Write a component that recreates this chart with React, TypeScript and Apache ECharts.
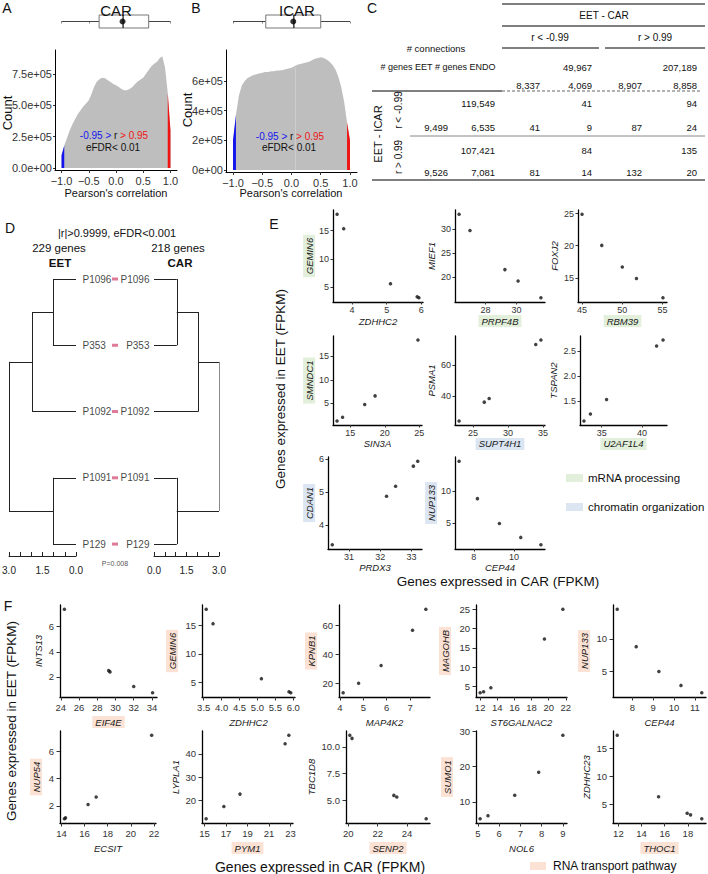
import React, { useEffect, useRef } from "react";
import * as echarts from "echarts";

const FONT = "'Liberation Sans', Arial, Helvetica, sans-serif";
const BLUE = "#1414ee";
const RED = "#ee1414";
const GREEN_HL = "#e2efda";
const BLUE_HL = "#dce6f2";
const PEACH_HL = "#fbe2d5";

// ---------------- A / B : distributions of Pearson's correlation ----------------
const corrBins = [-1.0, -0.95, -0.9, -0.85, -0.8, -0.75, -0.7, -0.65, -0.6, -0.55, -0.5, -0.45, -0.4, -0.35, -0.3, -0.25, -0.2, -0.15, -0.1, -0.05, 0.0, 0.05, 0.1, 0.15, 0.2, 0.25, 0.3, 0.35, 0.4, 0.45, 0.5, 0.55, 0.6, 0.65, 0.7, 0.75, 0.8, 0.85, 0.9, 0.95, 1.0];
const carCounts = [100000, 180000, 240000, 300000, 350000, 390000, 430000, 460000, 490000, 515000, 540000, 590000, 650000, 690000, 710000, 720000, 715000, 700000, 685000, 670000, 660000, 645000, 630000, 620000, 620000, 630000, 645000, 670000, 690000, 705000, 720000, 750000, 780000, 810000, 830000, 845000, 875000, 890000, 800000, 600000, 300000];
const icarCounts = [200000, 370000, 500000, 570000, 600000, 620000, 630000, 640000, 645000, 650000, 655000, 660000, 660000, 665000, 665000, 670000, 670000, 675000, 680000, 685000, 690000, 700000, 710000, 715000, 720000, 725000, 730000, 740000, 750000, 755000, 760000, 755000, 745000, 730000, 710000, 680000, 630000, 560000, 460000, 320000, 200000];
const corrTicks = [-1, -0.5, 0, 0.5, 1];
const carYTicks = [0, 250000, 500000, 750000];
const carYLabels = ["0.0e+00", "2.5e+05", "5.0e+05", "7.5e+05"];
const icarYTicks = [0, 200000, 400000, 600000];
const icarYLabels = ["0e+00", "2e+05", "4e+05", "6e+05"];
const carBoxStats = [-1.0, -0.31, 0.13, 0.6, 1.0];
const carMean = 0.12;
const icarBoxStats = [-1.0, -0.44, 0.04, 0.5, 1.0];
const icarMean = 0.03;
const icarMeanLine = 0.07;

// ---------------- C : table ----------------
const carSignHeaders = ["r < -0.99", "r > 0.99"];
const carConnections = ["49,967", "207,189"];
const carGenes = ["8,337", "4,069", "8,907", "8,858"];
const icarSignHeaders = ["r < -0.99", "r > 0.99"];
const icarConnections = ["119,549", "107,421"];
const icarGenes = [["9,499", "6,535"], ["9,526", "7,081"]];
const overlapConnections = [["41", "94"], ["84", "135"]];
const overlapGenes = [["41", "9", "87", "24"], ["81", "14", "132", "20"]];

// ---------------- D : dendrograms ----------------
const leafNames = ["P1096", "P353", "P1092", "P1091", "P129"];
const eetMergeHeights = [1.03, 1.97, 3.0, 1.03];
const carMergeHeights = [1.05, 2.05, 3.0, 1.05];
const dendroTicks = [0, 1.5, 3.0];

// ---------------- E / F : gene expression scatter plots ----------------
const ZDHHC2 = [3.57, 3.76, 5.11, 5.88, 5.93];
const GEMIN6 = [17.9, 15.35, 5.65, 3.35, 3.15];
const PRPF4B = [26.3, 27.0, 29.25, 30.1, 31.57];
const MIEF1 = [33.1, 29.7, 21.5, 19.1, 15.6];
const RBM39 = [45.0, 47.45, 50.0, 51.76, 55.05];
const FOXJ2 = [24.9, 20.05, 16.7, 14.9, 11.9];
const SIN3A = [13.1, 13.9, 17.1, 18.6, 24.8];
const SMNDC1 = [1.3, 2.1, 4.8, 6.6, 18.4];
const SUPT4H1 = [23.0, 26.6, 27.3, 33.96, 34.7];
const PSMA1 = [23.9, 36.0, 38.3, 73.1, 75.9];
const U2AF1L4 = [32.8, 33.6, 35.6, 41.8, 42.6];
const TSPAN2 = [1.1, 1.24, 1.53, 2.6, 2.72];
const PRDX3 = [30.46, 32.2, 32.49, 33.06, 33.2];
const CDAN1 = [3.4, 4.87, 5.17, 5.78, 5.93];
const CEP44 = [7.27, 8.18, 9.27, 10.33, 11.33];
const NUP133 = [14.6, 8.8, 4.94, 2.8, 1.65];
const EIF4E = [24.4, 29.25, 29.4, 32.0, 34.07];
const INTS13 = [7.4, 2.5, 2.4, 1.24, 0.73];
const MAP4K2 = [4.14, 4.8, 5.76, 7.1, 7.67];
const KPNB1 = [13.5, 20.0, 32.2, 56.5, 70.9];
const ST6GALNAC2 = [12.0, 12.4, 13.25, 19.5, 21.65];
const MAGOHB = [3.34, 3.6, 4.65, 17.3, 25.0];
const ECSIT = [14.25, 14.35, 16.3, 17.0, 21.8];
const NUP54 = [1.05, 1.12, 2.1, 2.65, 7.2];
const PYM1 = [15.15, 16.8, 18.3, 22.5, 22.85];
const LYPLA1 = [12.1, 17.4, 22.7, 44.3, 48.0];
const SENP2 = [20.1, 20.25, 23.1, 23.3, 25.3];
const TBC1D8 = [11.1, 10.8, 5.45, 5.3, 3.25];
const NOL6 = [5.1, 5.47, 6.73, 7.86, 9.0];
const SUMO1 = [5.2, 6.1, 11.9, 18.4, 28.9];
const THOC1 = [11.9, 15.47, 17.94, 18.23, 19.2];
const ZDHHC23 = [17.3, 6.4, 3.5, 3.2, 2.5];

type Panel = { x: number[]; y: number[]; xName: string; yName: string; xTicks: number[]; yTicks: number[]; hl?: "x" | "y"; hlColor?: string };

const ePanels: Panel[] = [
  { x: ZDHHC2, y: GEMIN6, xName: "ZDHHC2", yName: "GEMIN6", xTicks: [4, 5, 6], yTicks: [5, 10, 15], hl: "y", hlColor: GREEN_HL },
  { x: PRPF4B, y: MIEF1, xName: "PRPF4B", yName: "MIEF1", xTicks: [28, 30], yTicks: [20, 25, 30], hl: "x", hlColor: GREEN_HL },
  { x: RBM39, y: FOXJ2, xName: "RBM39", yName: "FOXJ2", xTicks: [45, 50, 55], yTicks: [15, 20, 25], hl: "x", hlColor: GREEN_HL },
  { x: SIN3A, y: SMNDC1, xName: "SIN3A", yName: "SMNDC1", xTicks: [15, 20, 25], yTicks: [5, 10, 15], hl: "y", hlColor: GREEN_HL },
  { x: SUPT4H1, y: PSMA1, xName: "SUPT4H1", yName: "PSMA1", xTicks: [25, 30, 35], yTicks: [40, 60], hl: "x", hlColor: BLUE_HL },
  { x: U2AF1L4, y: TSPAN2, xName: "U2AF1L4", yName: "TSPAN2", xTicks: [35, 40], yTicks: [1.5, 2.0, 2.5], hl: "x", hlColor: GREEN_HL },
  { x: PRDX3, y: CDAN1, xName: "PRDX3", yName: "CDAN1", xTicks: [31, 32, 33], yTicks: [4, 5, 6], hl: "y", hlColor: BLUE_HL },
  { x: CEP44, y: NUP133, xName: "CEP44", yName: "NUP133", xTicks: [8, 10], yTicks: [5, 10], hl: "y", hlColor: BLUE_HL },
];
const fPanels: Panel[] = [
  { x: EIF4E, y: INTS13, xName: "EIF4E", yName: "INTS13", xTicks: [24, 26, 28, 30, 32, 34], yTicks: [2, 4, 6], hl: "x", hlColor: PEACH_HL },
  { x: ZDHHC2, y: GEMIN6, xName: "ZDHHC2", yName: "GEMIN6", xTicks: [3.5, 4.0, 4.5, 5.0, 5.5, 6.0], yTicks: [5, 10, 15], hl: "y", hlColor: PEACH_HL },
  { x: MAP4K2, y: KPNB1, xName: "MAP4K2", yName: "KPNB1", xTicks: [4, 5, 6, 7], yTicks: [20, 40, 60], hl: "y", hlColor: PEACH_HL },
  { x: ST6GALNAC2, y: MAGOHB, xName: "ST6GALNAC2", yName: "MAGOHB", xTicks: [12, 14, 16, 18, 20, 22], yTicks: [5, 10, 15, 20, 25], hl: "y", hlColor: PEACH_HL },
  { x: CEP44, y: NUP133, xName: "CEP44", yName: "NUP133", xTicks: [8, 9, 10, 11], yTicks: [5, 10], hl: "y", hlColor: PEACH_HL },
  { x: ECSIT, y: NUP54, xName: "ECSIT", yName: "NUP54", xTicks: [14, 16, 18, 20, 22], yTicks: [2, 4, 6], hl: "y", hlColor: PEACH_HL },
  { x: PYM1, y: LYPLA1, xName: "PYM1", yName: "LYPLA1", xTicks: [15, 17, 19, 21, 23], yTicks: [20, 30, 40], hl: "x", hlColor: PEACH_HL },
  { x: SENP2, y: TBC1D8, xName: "SENP2", yName: "TBC1D8", xTicks: [20, 22, 24], yTicks: [5, 7.5, 10], hl: "x", hlColor: PEACH_HL },
  { x: NOL6, y: SUMO1, xName: "NOL6", yName: "SUMO1", xTicks: [5, 6, 7, 8, 9], yTicks: [10, 20, 30], hl: "y", hlColor: PEACH_HL },
  { x: THOC1, y: ZDHHC23, xName: "THOC1", yName: "ZDHHC23", xTicks: [12, 14, 16, 18], yTicks: [5, 10, 15], hl: "x", hlColor: PEACH_HL },
];

// layout (left, top, width, height) and name gaps (x, y)
const eRects = [
  [333, 210, 90, 92], [455, 210, 90, 92], [578, 210, 89, 92],
  [333, 336, 89, 89], [455, 336, 90, 89], [580, 336, 87, 89],
  [328, 457, 94, 92], [455, 457, 90, 92],
];
const eGaps = [[13, 16], [13, 17], [13, 16], [12, 16], [12, 17], [12, 18], [12, 11], [12, 17]];
const fRects = [
  [60, 605, 97, 92], [202, 605, 93, 92], [339, 605, 91, 92], [476, 605, 91, 92], [613, 605, 93, 92],
  [60, 731, 96, 92], [202, 731, 91, 92], [346, 731, 84, 92], [476, 731, 91, 92], [613, 731, 93, 92],
];
const fGaps = [[19, 16], [19, 24], [19, 22], [19, 25], [19, 23], [19, 18], [19, 21], [19, 29], [19, 23], [19, 20]];

function padRange(v: number[]) {
  const a = Math.min(...v);
  const b = Math.max(...v);
  const d = (b - a) * 0.05;
  return [a - d, b + d];
}
function decimals(t: number[]) {
  return t.some((v) => Math.abs(v - Math.round(v)) > 1e-9) ? 1 : 0;
}
function dendroSegments(h: number[]) {
  const [h0, h1, h2, h3] = h;
  return [
    [[0, 0], [h0, 0]], [[0, 1], [h0, 1]], [[h0, 0], [h0, 1]],
    [[h0, 0.5], [h1, 0.5]], [[0, 2], [h1, 2]], [[h1, 0.5], [h1, 2]],
    [[0, 3], [h3, 3]], [[0, 4], [h3, 4]], [[h3, 3], [h3, 4]],
    [[h1, 1.25], [h2, 1.25]], [[h3, 3.5], [h2, 3.5]], [[h2, 1.25], [h2, 3.5]],
  ];
}

function buildOption() {
  const grids: any[] = [];
  const xAxes: any[] = [];
  const yAxes: any[] = [];
  const series: any[] = [];
  const graphics: any[] = [];

  const addGrid = (r: number[]) => {
    grids.push({ left: r[0], top: r[1], width: r[2], height: r[3], containLabel: false, outerBoundsMode: "none" });
    return grids.length - 1;
  };
  const T = (text: string, x: number, y: number, o: any = {}) =>
    graphics.push({
      type: "text", x, y, rotation: o.rot || 0, silent: true, z: 100,
      style: {
        text, fill: o.color || "#111", fontSize: o.size || 10, fontFamily: FONT,
        fontWeight: o.bold ? "bold" : "normal", fontStyle: o.italic ? "italic" : "normal",
        align: o.align || "center", verticalAlign: "middle", rich: o.rich,
      },
    });
  const L = (x1: number, y1: number, x2: number, y2: number, o: any = {}) =>
    graphics.push({ type: "line", silent: true, z: 100, shape: { x1, y1, x2, y2 }, style: { stroke: o.color || "#000", lineWidth: o.w || 1, lineDash: o.dash } });
  const R = (x: number, y: number, width: number, height: number, fill: string) =>
    graphics.push({ type: "rect", silent: true, z: 100, shape: { x, y, width, height }, style: { fill } });

  // ---------- A / B ----------
  const histSpecs = [
    { counts: carCounts, box: carBoxStats, mean: carMean, meanLine: null as number | null, boxRect: [55, 14, 122, 15], rect: [55, 50, 122, 120], yMin: -15000, yMax: 940000, yTicks: carYTicks, yLabels: carYLabels },
    { counts: icarCounts, box: icarBoxStats, mean: icarMean, meanLine: icarMeanLine, boxRect: [226, 14, 131, 15], rect: [226, 50, 131, 122], yMin: -13500, yMax: 809000, yTicks: icarYTicks, yLabels: icarYLabels },
  ];
  histSpecs.forEach((h) => {
    const bi = addGrid(h.boxRect);
    xAxes.push({
      gridIndex: bi, type: "value", min: -1.12, max: 1.12,
      axisLine: { show: false }, axisLabel: { show: false }, splitLine: { show: false },
      axisTick: { show: true, customValues: corrTicks, length: 2, lineStyle: { color: "#888" } },
    });
    yAxes.push({ gridIndex: bi, type: "value", min: -1, max: 1, show: false });
    series.push({
      type: "custom", xAxisIndex: bi, yAxisIndex: bi, silent: true, data: [h.box],
      renderItem: (_p: any, api: any) => {
        const px = (v: number) => api.coord([v, 0])[0];
        const y = api.coord([0, 0])[1];
        const mn = api.value(0), q1 = api.value(1), md = api.value(2), q3 = api.value(3), mx = api.value(4);
        const hh = 6.5;
        return {
          type: "group",
          children: [
            { type: "line", shape: { x1: px(mn), y1: y, x2: px(q1), y2: y }, style: { stroke: "#444", lineWidth: 1 } },
            { type: "line", shape: { x1: px(q3), y1: y, x2: px(mx), y2: y }, style: { stroke: "#444", lineWidth: 1 } },
            { type: "rect", shape: { x: px(q1), y: y - hh, width: px(q3) - px(q1), height: 2 * hh }, style: { fill: "#fff", stroke: "#777", lineWidth: 1 } },
            { type: "line", shape: { x1: px(md), y1: y - hh, x2: px(md), y2: y + hh }, style: { stroke: "#222", lineWidth: 1.3 } },
          ],
        };
      },
    });
    series.push({ type: "scatter", xAxisIndex: bi, yAxisIndex: bi, data: [[h.mean, 0]], symbol: "circle", symbolSize: 6, itemStyle: { color: "#000" }, silent: true, z: 5 });

    const gi = addGrid(h.rect);
    xAxes.push({
      gridIndex: gi, type: "value", min: -1.12, max: 1.12, splitLine: { show: false },
      axisLine: { show: true, onZero: false, lineStyle: { color: "#000", width: 1 } },
      axisTick: { show: true, customValues: corrTicks, length: 3, lineStyle: { color: "#333" } },
      axisLabel: { customValues: corrTicks, formatter: (v: number) => v.toFixed(1).replace("-", "\u2212"), fontSize: 11, color: "#333", margin: 5, fontFamily: FONT },
    });
    yAxes.push({
      gridIndex: gi, type: "value", min: h.yMin, max: h.yMax, splitLine: { show: false },
      axisLine: { show: true, onZero: false, lineStyle: { color: "#000", width: 1 } },
      axisTick: { show: true, customValues: h.yTicks, length: 2, lineStyle: { color: "#333" } },
      axisLabel: {
        customValues: h.yTicks, fontSize: 11, color: "#333", margin: 3, fontFamily: FONT,
        formatter: (v: number) => { const k = h.yTicks.findIndex((t) => Math.abs(t - v) < 1); return k >= 0 ? h.yLabels[k] : ""; },
      },
    });
    series.push({
      type: "line", xAxisIndex: gi, yAxisIndex: gi, silent: true, symbol: "none", showSymbol: false,
      data: corrBins.map((b, i) => [b, h.counts[i]]), lineStyle: { width: 0 }, areaStyle: { color: "#bebebe", opacity: 1 }, z: 2,
      markLine: h.meanLine === null ? undefined : {
        silent: true, symbol: "none", label: { show: false }, animation: false,
        lineStyle: { color: "#cdcdcd", width: 1, type: "solid" },
        data: [[{ coord: [h.meanLine, 0] }, { coord: [h.meanLine, 690000] }]],
      },
    });
    series.push({
      type: "line", xAxisIndex: gi, yAxisIndex: gi, silent: true, symbol: "none", showSymbol: false,
      data: corrBins.map((b, i) => [b, h.counts[i]]).filter((d) => d[0] <= -0.95), lineStyle: { width: 0 }, areaStyle: { color: BLUE, opacity: 1 }, z: 3,
    });
    series.push({
      type: "line", xAxisIndex: gi, yAxisIndex: gi, silent: true, symbol: "none", showSymbol: false,
      data: corrBins.map((b, i) => [b, h.counts[i]]).filter((d) => d[0] >= 0.95), lineStyle: { width: 0 }, areaStyle: { color: RED, opacity: 1 }, z: 3,
    });
  });

  // ---------- D ----------
  const dSpecs = [
    { rect: [9, 279, 67, 277], inverse: true, merges: eetMergeHeights, labelPos: "right", dist: 6, rootColor: "#222" },
    { rect: [154, 279, 65, 277], inverse: false, merges: carMergeHeights, labelPos: "left", dist: 4, rootColor: "#8a8a8a" },
  ];
  dSpecs.forEach((d, k) => {
    const gi = addGrid(d.rect);
    xAxes.push({
      gridIndex: gi, type: "value", min: 0, max: 3, interval: 0.5, inverse: d.inverse, splitLine: { show: false },
      axisLine: { show: true, onZero: false, lineStyle: { color: "#222", width: 1 } },
      axisTick: { show: true, inside: true, length: 4, lineStyle: { color: "#222" } },
      axisLabel: { customValues: dendroTicks, formatter: (v: number) => v.toFixed(1), fontSize: 10, color: "#222", margin: 9, fontFamily: FONT },
    });
    yAxes.push({ gridIndex: gi, type: "value", min: 0, max: 4.18, inverse: true, show: false });
    const segs = dendroSegments(d.merges);
    series.push({
      type: "lines", coordinateSystem: "cartesian2d", xAxisIndex: gi, yAxisIndex: gi, silent: true,
      data: segs.map((c, j) => (j === segs.length - 1 ? { coords: c, lineStyle: { color: d.rootColor } } : { coords: c })),
      lineStyle: { color: "#222", width: 1, opacity: 1, curveness: 0 },
    });
    series.push({
      type: "scatter", xAxisIndex: gi, yAxisIndex: gi, silent: true, symbolSize: 1, itemStyle: { color: "rgba(0,0,0,0)" },
      data: leafNames.map((n, i) => ({ name: n, value: [0, i] })),
      label: { show: true, position: d.labelPos, distance: d.dist, formatter: "{b}", fontSize: 10, color: "#111", fontFamily: FONT },
    });
    if (k === 0) {
      series.push({
        type: "scatter", xAxisIndex: gi, yAxisIndex: gi, silent: true, clip: false,
        symbol: "rect", symbolSize: [6, 3], symbolOffset: [39, 0], itemStyle: { color: "#d6587e" },
        data: leafNames.map((n, i) => ({ name: n, value: [0, i] })),
      });
    }
  });

  // ---------- E / F ----------
  const addScatter = (p: Panel, r: number[], g: number[], st: any) => {
    const gi = addGrid(r);
    const [x0, x1] = padRange(p.x);
    const [y0, y1] = padRange(p.y);
    const xd = decimals(p.xTicks);
    const yd = decimals(p.yTicks);
    const nameStyle = (on: boolean) => ({
      fontStyle: "italic", fontSize: st.name, color: "#1a1a1a", fontFamily: FONT,
      backgroundColor: on ? p.hlColor : "transparent", padding: [1, 3],
    });
    const common = { type: "value", gridIndex: gi, splitLine: { show: false }, nameLocation: "middle" };
    xAxes.push({
      ...common, min: x0, max: x1, name: p.xName, nameGap: g[0], nameTextStyle: nameStyle(p.hl === "x"),
      axisLine: { show: true, onZero: false, lineStyle: { color: "#000", width: 1.3 } },
      axisTick: { show: true, length: st.tick, customValues: p.xTicks, lineStyle: { color: "#333" } },
      axisLabel: { customValues: p.xTicks, formatter: (v: number) => v.toFixed(xd), fontSize: st.label, color: "#333", margin: st.xm, fontFamily: FONT },
    });
    yAxes.push({
      ...common, min: y0, max: y1, name: p.yName, nameGap: g[1], nameTextStyle: nameStyle(p.hl === "y"),
      axisLine: { show: true, onZero: false, lineStyle: { color: "#000", width: 1.3 } },
      axisTick: { show: true, length: st.tick, customValues: p.yTicks, lineStyle: { color: "#333" } },
      axisLabel: { customValues: p.yTicks, formatter: (v: number) => v.toFixed(yd), fontSize: st.label, color: "#333", margin: st.ym, fontFamily: FONT },
    });
    series.push({
      type: "scatter", xAxisIndex: gi, yAxisIndex: gi, silent: true, symbolSize: 3.5, itemStyle: { color: "#111" },
      data: p.x.map((v, i) => [v, p.y[i]]),
    });
  };
  const eStyle = { tick: 2.5, label: 9, name: 9.5, xm: 3, ym: 4 };
  const fStyle = { tick: 3.5, label: 9.5, name: 9.5, xm: 5, ym: 6 };
  ePanels.forEach((p, i) => addScatter(p, eRects[i], eGaps[i], eStyle));
  fPanels.forEach((p, i) => addScatter(p, fRects[i], fGaps[i], fStyle));

  // ---------- texts: letters ----------
  T("A", 7, 8, { size: 14 });
  T("B", 196, 8, { size: 14 });
  T("C", 372, 8, { size: 14 });
  T("D", 10, 228, { size: 14 });
  T("E", 274, 224, { size: 14 });
  T("F", 8, 606, { size: 14 });

  // A / B texts
  T("CAR", 116, 10, { size: 15 });
  T("ICAR", 297, 10, { size: 15 });
  T("Count", 7, 113, { size: 13, rot: Math.PI / 2 });
  T("Count", 187, 110, { size: 13, rot: Math.PI / 2 });
  T("Pearson's correlation", 116, 193, { size: 11 });
  T("Pearson's correlation", 291, 193, { size: 11 });
  const rich = { b: { fill: BLUE, fontSize: 10, fontFamily: FONT }, r: { fill: RED, fontSize: 10, fontFamily: FONT } };
  T("{b|-0.95 >} r {r|> 0.95}", 114, 135, { size: 10, rich });
  T("eFDR< 0.01", 113, 147, { size: 10 });
  T("{b|-0.95 >} r {r|> 0.95}", 290, 136, { size: 10, rich });
  T("eFDR< 0.01", 289, 147, { size: 10 });

  // ---------- C : table ----------
  const colRight = [540, 592, 642, 697];
  const connRight = [592, 697];
  const icarColRight = [448, 495];
  const icarConnY = [103, 150];
  const icarGenesY = [127, 172];
  const icarSignY = [110, 157];
  L(502, 4, 705, 4, { w: 1 });
  T("EET - CAR", 604, 15, { size: 10 });
  L(502, 26, 705, 26, { w: 1 });
  T(carSignHeaders[0], 550, 37, { size: 10 });
  T(carSignHeaders[1], 655, 37, { size: 10 });
  L(502, 48, 599, 48, { w: 1 });
  L(605, 48, 705, 48, { w: 1 });
  T("# connections", 436, 48, { size: 9.5 });
  T("# genes EET # genes ENDO", 438, 67, { size: 9 });
  carConnections.forEach((s, i) => T(s, connRight[i], 67, { size: 9.5, align: "right" }));
  carGenes.forEach((s, i) => T(s, colRight[i], 85, { size: 9.5, align: "right" }));
  L(372, 91, 502, 91, { w: 1 });
  L(502, 91, 700, 91, { w: 1, color: "#666", dash: [3, 2] });
  for (let r = 0; r < 2; r++) {
    T(icarConnections[r], 495, icarConnY[r], { size: 9.5, align: "right" });
    overlapConnections[r].forEach((s, i) => T(s, connRight[i], icarConnY[r], { size: 9.5, align: "right" }));
    icarGenes[r].forEach((s, i) => T(s, icarColRight[i], icarGenesY[r], { size: 9.5, align: "right" }));
    overlapGenes[r].forEach((s, i) => T(s, colRight[i], icarGenesY[r], { size: 9.5, align: "right" }));
    T(icarSignHeaders[r], 398, icarSignY[r], { size: 10, rot: Math.PI / 2 });
  }
  L(410, 136, 705, 136, { w: 1, color: "#888" });
  L(372, 180, 705, 180, { w: 1.2 });
  T("EET - ICAR", 378, 134, { size: 11, rot: Math.PI / 2 });

  // ---------- D texts ----------
  T("|r|>0.9999, eFDR<0.001", 117, 233, { size: 11 });
  T("229 genes", 59, 248, { size: 11.5 });
  T("218 genes", 178, 248, { size: 11.5 });
  T("EET", 60, 263, { size: 11.5, bold: true });
  T("CAR", 180, 263, { size: 11.5, bold: true });
  T("P=0.008", 115, 563, { size: 7, color: "#555" });

  // ---------- E texts ----------
  T("Genes expressed in EET (FPKM)", 280, 389, { size: 13.5, rot: Math.PI / 2 });
  T("Genes expressed in CAR (FPKM)", 498, 581, { size: 13.5 });
  R(566, 474, 17, 8, GREEN_HL);
  T("mRNA processing", 588, 478, { size: 11.5, align: "left" });
  R(566, 503, 17, 8, BLUE_HL);
  T("chromatin organization", 588, 507, { size: 11.5, align: "left" });

  // ---------- F texts ----------
  T("Genes expressed in EET (FPKM)", 11, 721, { size: 13.5, rot: Math.PI / 2 });
  T("Genes expressed in CAR (FPKM)", 320, 867, { size: 14 });
  R(530, 862, 16, 8, PEACH_HL);
  T("RNA transport pathway", 553, 866, { size: 12, align: "left" });

  return {
    animation: false,
    backgroundColor: "#ffffff",
    textStyle: { fontFamily: FONT },
    grid: grids,
    xAxis: xAxes,
    yAxis: yAxes,
    series,
    graphic: { elements: graphics },
  };
}

export default function App() {
  const ref = useRef<HTMLDivElement>(null);
  useEffect(() => {
    if (!ref.current) return;
    const chart = echarts.init(ref.current, undefined, { renderer: "svg" });
    chart.setOption(buildOption() as any);
    return () => chart.dispose();
  }, []);
  return <div ref={ref} style={{ position: "absolute", left: 0, top: 0, width: 708, height: 874, background: "#fff" }} />;
}
